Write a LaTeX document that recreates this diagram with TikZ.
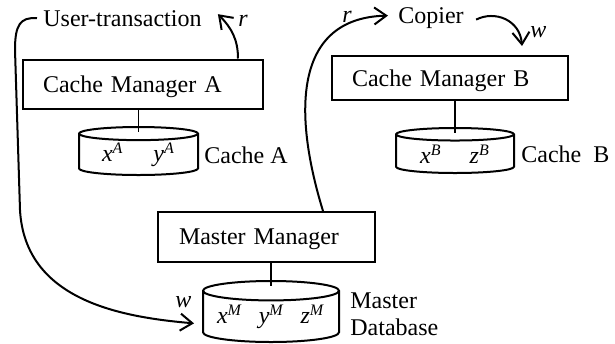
\documentclass[tikz,border=0pt]{standalone}
\usepackage{fontspec}
\setmainfont{Liberation Serif}
\usetikzlibrary{shapes.geometric}
\usetikzlibrary{arrows.meta}

\newcommand{\sv}[2]{\textit{#1}\textsuperscript{\textit{#2}}}

\begin{document}
\begin{tikzpicture} [
    x=0.5pt, y=-0.5pt,
    font=\fontsize{12}{13.5}\selectfont,
    manager/.style = { rectangle, draw, line width=1pt, inner xsep=10pt,
                       align=left, text depth=0pt, minimum height=24pt },
    store/.style   = { cylinder, shape border rotate=90, draw, line width=1pt,
                       aspect=0.18, anchor=shape center, inner sep=0pt },
    caption/.style = { inner sep=0pt, anchor=base west },
    link/.style    = { draw, thick },
    flow/.style    = { draw, line width=1pt, -{Straight Barb[length=6pt,width=8.5pt]} },
  ]
  \useasboundingbox (0,0) rectangle (615,343);

  % managers
  \node [manager, text width=100pt, minimum height=24.5pt] (cma) at (143,84) {Cache Manager A};
  \node [manager, text width=98pt, minimum height=22pt] (cmb) at (450,78) {Cache Manager B};
  \node [manager, text width=87.5pt, inner xsep=10.5pt, minimum height=25pt] (mm) at (266.5,237) {Master Manager};

  % stores
  \node [store, minimum width=59.5pt, minimum height=24pt] (cya) at (138.5,151) {\sv{x}{A}\hspace{15pt}\sv{y}{A}};
  \node [store, minimum width=59pt, minimum height=22.5pt] (cyb) at (455,150.5) {\sv{x}{B}\hspace{14pt}\sv{z}{B}};
  \node [store, minimum width=68pt, minimum height=30.5pt] (cym) at (271,311.5) {\sv{x}{M}\hspace{8pt}\sv{y}{M}\hspace{8pt}\sv{z}{M}};

  % texts
  \node [caption] (lca) at (204,163) {Cache A};
  \node [caption] (lcb) at (521,162) {Cache\ \ B};
  \node [caption, align=left, anchor=north west] (lmd) at (350,292) {Master\\Database};
  \node [caption] (ut)  at (43,26)  {User-transaction};
  \node [caption] (cop) at (398,23) {Copier};
  \node [caption] (ra)  at (238,26) {\textit{r}};
  \node [caption] (rb)  at (342,22) {\textit{r}};
  \node [caption] (wb)  at (530,37) {\textit{w}};
  \node [caption] (wm)  at (175,307) {\textit{w}};

  % manager to store
  \path [link] (cma.south -| cya.north) -- ([yshift=-2.75pt]cya.north);
  \path [link] (cmb.south -| cyb.north) -- ([yshift=-2.75pt]cyb.north);
  \path [link] (mm.south -| cym.north)  -- ([yshift=-3pt]cym.north);

  % reads and writes
  \path [flow] ([xshift=-3pt]ut.west) .. controls (20,17) and (15,25) .. (15,50)
               -- (20,210) .. controls (25,300) and (120,317) .. ([shift={(-4pt,-3.25pt)}]cym.west);
  \path [flow] ([xshift=-13pt]cma.north east) to [out=90, in=-45] ([shift={(8pt,2pt)}]ut.east);
  \path [flow] ([xshift=-26.5pt]mm.north east) .. controls (292,110) and (295,18) .. ([shift={(-5pt,1pt)}]cop.west);
  \path [flow] ([xshift=6pt,yshift=-1pt]cop.east) .. controls (495,10) and (520,20) .. ([shift={(36pt,4.5pt)}]cmb.north);
\end{tikzpicture}
\end{document}
